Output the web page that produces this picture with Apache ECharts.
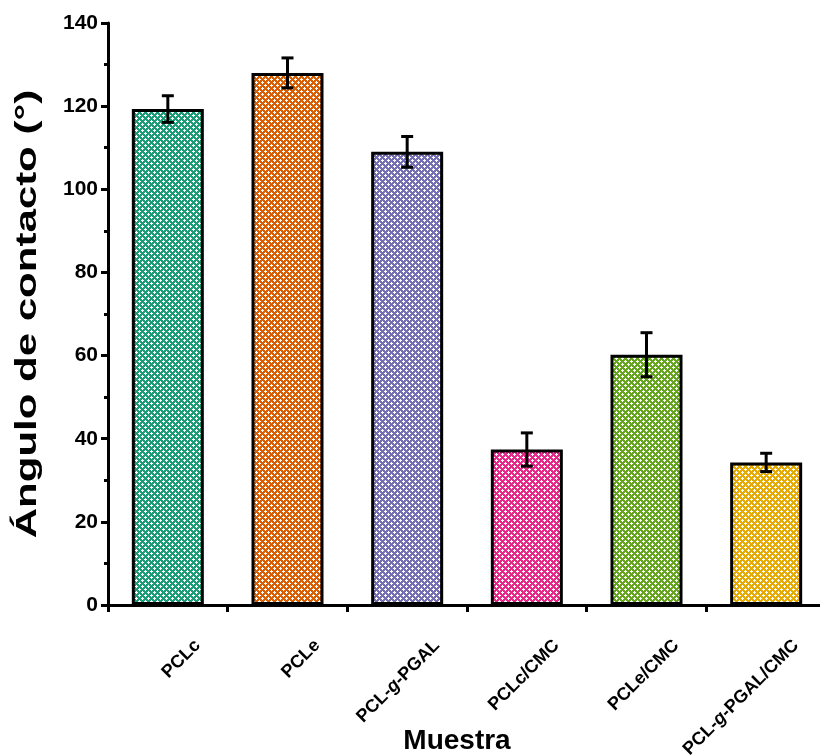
<!DOCTYPE html>
<html><head><meta charset="utf-8">
<script src="https://cdn.jsdelivr.net/npm/echarts@6/dist/echarts.min.js"></script>
<style>html,body{margin:0;padding:0;background:#fff}#c{width:820px;height:756px}</style>
</head><body><div id="c"></div>
<script>
const categories = ['PCLc', 'PCLe', 'PCL-g-PGAL', 'PCLc/CMC', 'PCLe/CMC', 'PCL-g-PGAL/CMC'];
const values = [119.3, 128.0, 109.0, 37.4, 60.2, 34.3];
const errors = [3.2, 3.6, 3.7, 4.0, 5.3, 2.2];
const colors = ['#1b9e77', '#d95f02', '#7570b3', '#e7298a', '#66a61e', '#e6ab02'];
const yTicks = [0, 20, 40, 60, 80, 100, 120, 140];
const yTitle = 'Ángulo de contacto (°)';
const xTitle = 'Muestra';

function pattern(color) {
  const c = document.createElement('canvas');
  c.width = 6; c.height = 6;
  const g = c.getContext('2d');
  g.fillStyle = color; g.fillRect(0, 0, 6, 6);
  g.fillStyle = '#ffffff';
  const plus = (x, y) => {
    g.fillRect(x, y, 1, 1);
    g.fillRect((x + 5) % 6, y, 1, 1); g.fillRect((x + 1) % 6, y, 1, 1);
    g.fillRect(x, (y + 5) % 6, 1, 1); g.fillRect(x, (y + 1) % 6, 1, 1);
  };
  plus(1, 1); plus(4, 4);
  return c;
}

const font = '"Liberation Sans", Arial, sans-serif';
const chart = echarts.init(document.getElementById('c'), null, {renderer: 'canvas'});
chart.setOption({
  animation: false,
  backgroundColor: '#ffffff',
  grid: {left: 108, top: 23, width: 718, height: 582, outerBoundsMode: 'none', containLabel: false},
  graphic: [{
    type: 'text', x: 28, y: 314, rotation: Math.PI / 2, scaleX: 1.4, scaleY: 1,
    style: {text: yTitle, font: 'bold 30px ' + font, fill: '#000', align: 'center', verticalAlign: 'middle'}
  }, {
    type: 'text', x: 457, y: 741,
    style: {text: xTitle, font: 'bold 28px ' + font, fill: '#000', align: 'center', verticalAlign: 'middle'}
  }],
  xAxis: {
    type: 'category', data: categories, boundaryGap: true,
    axisLine: {lineStyle: {color: '#000', width: 3}},
    axisTick: {show: true, interval: 0, length: 7, lineStyle: {color: '#000', width: 3}},
    axisLabel: {
      interval: 0, rotate: 45, margin: 8, color: '#000',
      fontFamily: font, fontWeight: 'bold', fontSize: 18,
      verticalAlign: 'top', padding: [33, 0, 0, 0],
      formatter: v => v.replace(/-g-/g, '-{i|g}-'),
      rich: {i: {fontFamily: font, fontWeight: 'bold', fontStyle: 'italic', fontSize: 18, color: '#000'}}
    },
    splitLine: {show: false}
  },
  yAxis: {
    type: 'value', min: yTicks[0], max: yTicks[yTicks.length - 1], interval: 20,
    axisLine: {show: true, lineStyle: {color: '#000', width: 3}},
    axisTick: {show: true, length: 7, lineStyle: {color: '#000', width: 3}},
    minorTick: {show: true, splitNumber: 2, length: 4, lineStyle: {color: '#000', width: 3}},
    axisLabel: {color: '#000', fontFamily: font, fontWeight: 'bold', fontSize: 21, margin: 10},
    splitLine: {show: false}
  },
  series: [{
    type: 'bar', barWidth: 72,
    data: values.map((v, i) => ({value: v, itemStyle: {color: {image: pattern(colors[i]), repeat: 'repeat'}}})),
    itemStyle: {borderColor: '#000', borderWidth: 3}
  }, {
    type: 'custom', z: 10,
    data: values.map((v, i) => [i, v, errors[i]]),
    renderItem: (params, api) => {
      const i = api.value(0), v = api.value(1), e = api.value(2);
      const hi = api.coord([i, v + e]), lo = api.coord([i, v - e]);
      const w = 6;
      const st = {stroke: '#000', lineWidth: 3};
      return {type: 'group', children: [
        {type: 'line', shape: {x1: hi[0], y1: hi[1], x2: lo[0], y2: lo[1]}, style: st},
        {type: 'line', shape: {x1: hi[0] - w, y1: hi[1], x2: hi[0] + w, y2: hi[1]}, style: st},
        {type: 'line', shape: {x1: lo[0] - w, y1: lo[1], x2: lo[0] + w, y2: lo[1]}, style: st}
      ]};
    }
  }]
});
</script></body></html>
